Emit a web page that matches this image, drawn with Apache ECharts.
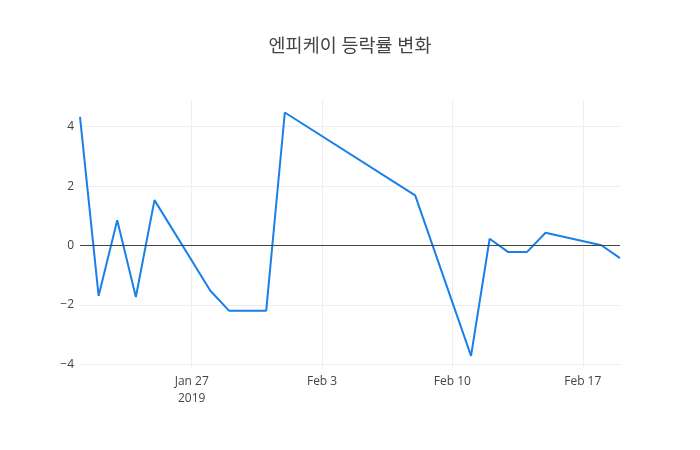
<!DOCTYPE html>
<html>
<head>
<meta charset="utf-8">
<script src="https://cdn.jsdelivr.net/npm/echarts@6/dist/echarts.min.js"></script>
<style>
  html, body { margin: 0; padding: 0; background: #fff; }
  #chart { width: 700px; height: 450px; }
</style>
</head>
<body>
<div id="chart"></div>
<script>
// 엔피케이 daily change rate (%)
const dates = ['2019-01-21', '2019-01-22', '2019-01-23', '2019-01-24', '2019-01-25',
  '2019-01-28', '2019-01-29', '2019-01-30', '2019-01-31', '2019-02-01',
  '2019-02-08', '2019-02-11', '2019-02-12', '2019-02-13', '2019-02-14',
  '2019-02-15', '2019-02-18', '2019-02-19']
const rates = [4.33, -1.69, 0.85, -1.73, 1.53,
  -1.52, -2.19, -2.19, -2.19, 4.48,
  1.69, -3.71, 0.23, -0.22, -0.22,
  0.43, 0.01, -0.42]
const xTicks = ['2019-01-27', '2019-02-03', '2019-02-10', '2019-02-17']
const yTicks = [-4, -2, 0, 2, 4]

const months = ['Jan', 'Feb', 'Mar', 'Apr', 'May', 'Jun', 'Jul', 'Aug', 'Sep', 'Oct', 'Nov', 'Dec']
const ts = s => new Date(s + 'T00:00:00Z').getTime()

const chart = echarts.init(document.getElementById('chart'))
chart.setOption({
  animation: false,
  textStyle: { fontFamily: '"Open Sans", "Noto Sans CJK KR", sans-serif' },
  title: {
    text: '엔피케이 등락률 변화',
    left: 'center',
    top: 32,
    textStyle: { fontSize: 18.5, fontWeight: 'normal', color: '#444',
      fontFamily: '"Open Sans", "Noto Sans CJK KR", sans-serif' }
  },
  grid: { left: 80, right: 80, top: 100, bottom: 82 },
  xAxis: {
    type: 'value',
    min: ts('2019-01-21'),
    max: ts('2019-02-19'),
    axisLine: { show: false },
    axisTick: { show: false, customValues: xTicks.map(ts) },
    splitLine: { show: true, lineStyle: { color: '#eee', width: 1 } },
    axisLabel: {
      customValues: xTicks.map(ts),
      color: '#444',
      fontSize: 12,
      margin: 5,
      lineHeight: 17,
      formatter: v => {
        const d = new Date(v)
        const s = months[d.getUTCMonth()] + ' ' + d.getUTCDate()
        return v === ts(xTicks[0]) ? s + '\n' + d.getUTCFullYear() : s
      }
    }
  },
  yAxis: {
    type: 'value',
    min: -4.12,
    max: 4.9,
    axisLine: { show: false },
    axisTick: { show: false, customValues: yTicks },
    splitLine: { show: true, lineStyle: { color: '#eee', width: 1 } },
    axisLabel: {
      customValues: yTicks,
      color: '#444',
      fontSize: 12,
      margin: 6,
      formatter: v => (v < 0 ? '\u2212' + Math.abs(v) : String(v))
    }
  },
  series: [{
    type: 'line',
    data: dates.map((d, i) => [ts(d), rates[i]]),
    showSymbol: false,
    lineStyle: { color: '#1a7fe8', width: 2 },
    itemStyle: { color: '#1a7fe8' },
    markLine: {
      silent: true,
      symbol: 'none',
      label: { show: false },
      lineStyle: { color: '#444', width: 1, type: 'solid' },
      data: [{ yAxis: 0 }]
    }
  }]
})
</script>
</body>
</html>
